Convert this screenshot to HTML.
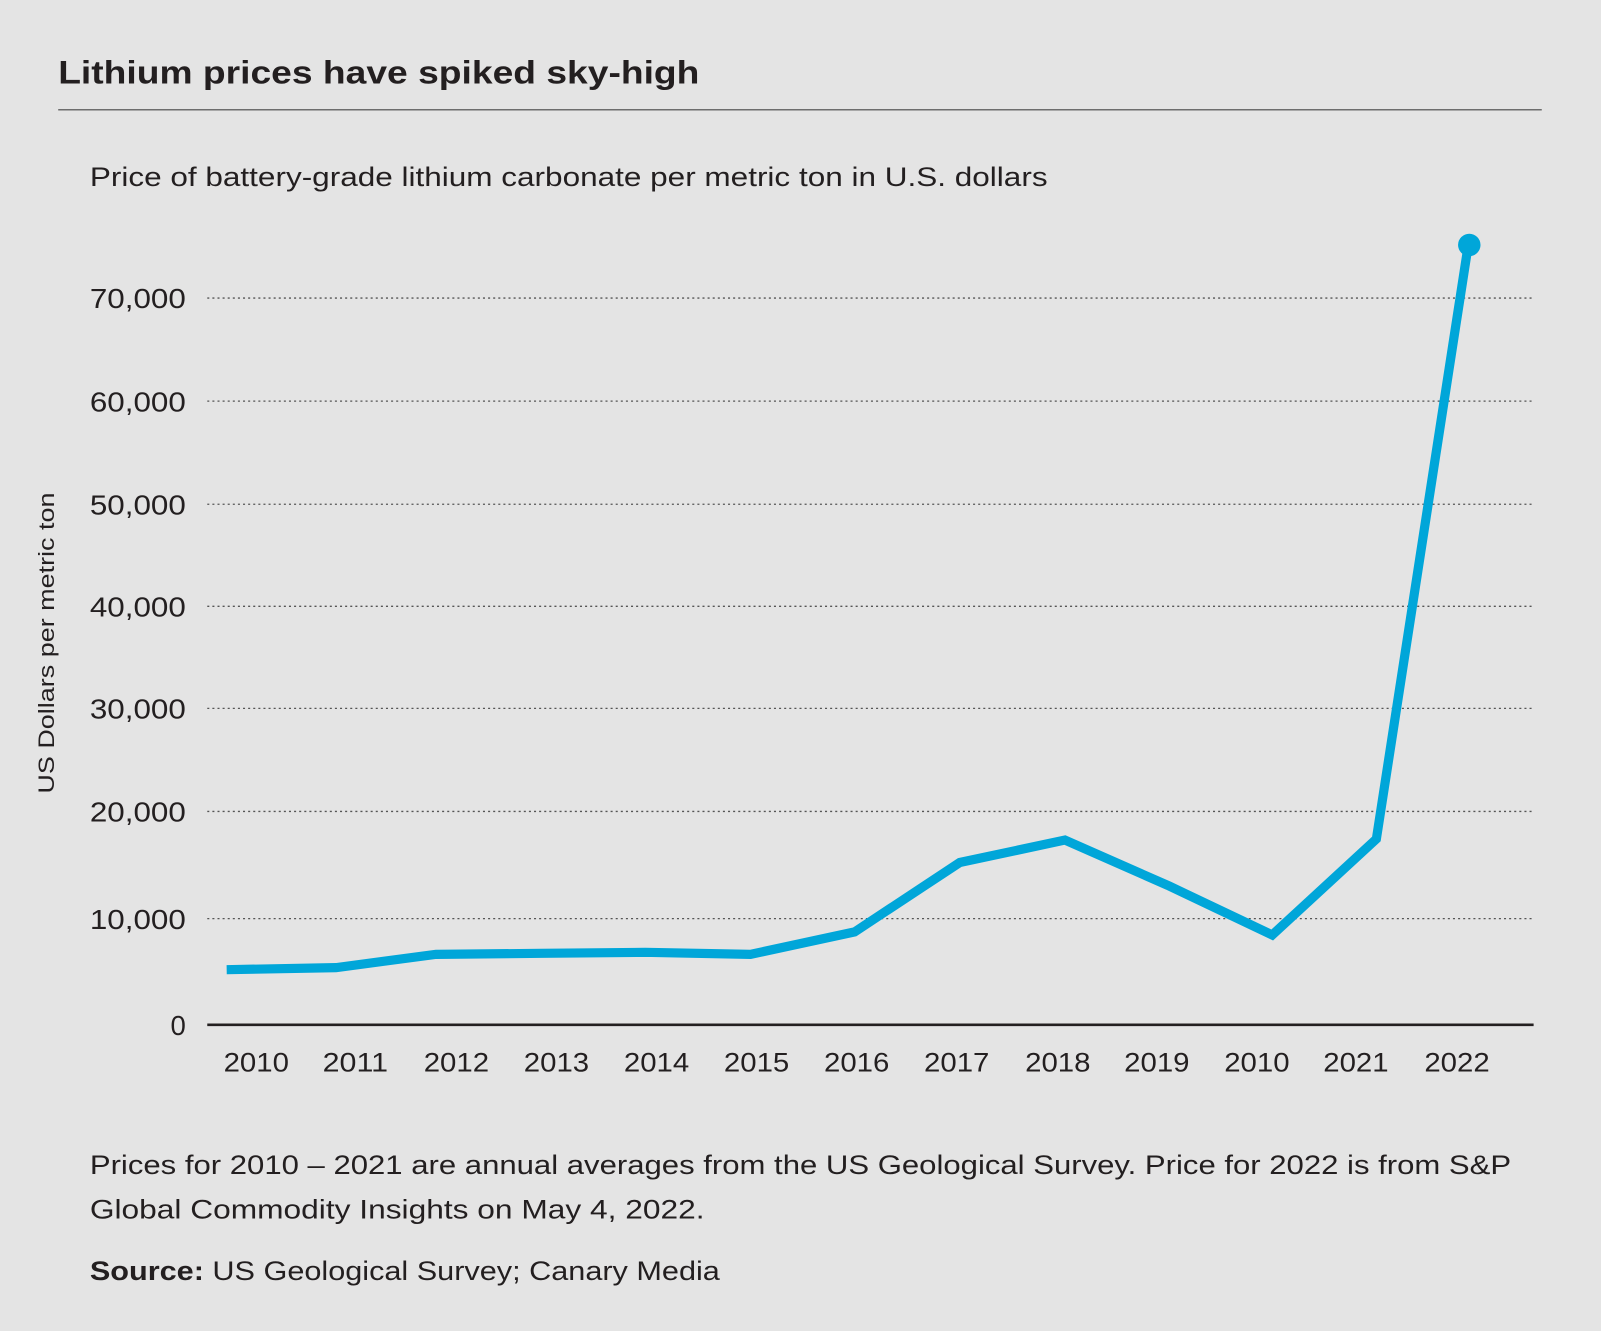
<!DOCTYPE html>
<html><head><meta charset="utf-8"><style>
html,body{margin:0;padding:0;background:#e4e4e4;}
svg{display:block;}
text{font-family:"Liberation Sans",sans-serif;fill:#231f20;}
</style></head><body>
<svg width="1601" height="1331" viewBox="0 0 1568 1304" preserveAspectRatio="none" xmlns="http://www.w3.org/2000/svg">
<rect width="1568" height="1304" fill="#e4e4e4"/>
<text x="57" y="82" font-size="32" font-weight="bold" textLength="628" lengthAdjust="spacingAndGlyphs">Lithium prices have spiked sky-high</text>
<line x1="57" y1="107.5" x2="1510" y2="107.5" stroke="#6d6d6d" stroke-width="1.5"/>
<text x="88" y="182" font-size="26" textLength="938" lengthAdjust="spacingAndGlyphs">Price of battery-grade lithium carbonate per metric ton in U.S. dollars</text>
<g stroke="#555" stroke-width="1.3" stroke-dasharray="2,3">
<line x1="203" y1="292" x2="1502" y2="292"/>
<line x1="203" y1="393" x2="1502" y2="393"/>
<line x1="203" y1="494" x2="1502" y2="494"/>
<line x1="203" y1="594" x2="1502" y2="594"/>
<line x1="203" y1="694" x2="1502" y2="694"/>
<line x1="203" y1="795" x2="1502" y2="795"/>
<line x1="203" y1="900" x2="1502" y2="900"/>
</g>
<line x1="203" y1="1004" x2="1502" y2="1004" stroke="#231f20" stroke-width="2.5"/>
<g font-size="27">
<text x="88" y="302" textLength="94" lengthAdjust="spacingAndGlyphs">70,000</text>
<text x="88" y="403" textLength="94" lengthAdjust="spacingAndGlyphs">60,000</text>
<text x="88" y="504" textLength="94" lengthAdjust="spacingAndGlyphs">50,000</text>
<text x="88" y="604" textLength="94" lengthAdjust="spacingAndGlyphs">40,000</text>
<text x="88" y="704" textLength="94" lengthAdjust="spacingAndGlyphs">30,000</text>
<text x="88" y="805" textLength="94" lengthAdjust="spacingAndGlyphs">20,000</text>
<text x="88" y="910" textLength="94" lengthAdjust="spacingAndGlyphs">10,000</text>
<text x="182" y="1014" text-anchor="end">0</text>
</g>
<text transform="translate(53,630) rotate(-90)" font-size="22" text-anchor="middle" textLength="295" lengthAdjust="spacingAndGlyphs">US Dollars per metric ton</text>
<g font-size="26" text-anchor="middle">
<text x="251" y="1050" textLength="64" lengthAdjust="spacingAndGlyphs">2010</text><text x="348" y="1050" textLength="64" lengthAdjust="spacingAndGlyphs">2011</text><text x="447" y="1050" textLength="64" lengthAdjust="spacingAndGlyphs">2012</text>
<text x="545" y="1050" textLength="64" lengthAdjust="spacingAndGlyphs">2013</text><text x="643" y="1050" textLength="64" lengthAdjust="spacingAndGlyphs">2014</text><text x="741" y="1050" textLength="64" lengthAdjust="spacingAndGlyphs">2015</text>
<text x="839" y="1050" textLength="64" lengthAdjust="spacingAndGlyphs">2016</text><text x="937" y="1050" textLength="64" lengthAdjust="spacingAndGlyphs">2017</text><text x="1036" y="1050" textLength="64" lengthAdjust="spacingAndGlyphs">2018</text>
<text x="1133" y="1050" textLength="64" lengthAdjust="spacingAndGlyphs">2019</text><text x="1231" y="1050" textLength="64" lengthAdjust="spacingAndGlyphs">2010</text><text x="1328" y="1050" textLength="64" lengthAdjust="spacingAndGlyphs">2021</text>
<text x="1427" y="1050" textLength="64" lengthAdjust="spacingAndGlyphs">2022</text>
</g>
<polyline fill="none" stroke="#00a6d9" stroke-width="9" stroke-linejoin="miter" points="222,950 329,948 427,935 530,934 632,933 735,935 837,913 940,845 1043,823 1145,868 1246,916 1348,822 1438,240"/>
<circle cx="1439" cy="240" r="11" fill="#00a6d9"/>
<text x="88" y="1150" font-size="26" textLength="1392" lengthAdjust="spacingAndGlyphs">Prices for 2010 – 2021 are annual averages from the US Geological Survey. Price for 2022 is from S&amp;P</text>
<text x="88" y="1194" font-size="26" textLength="602" lengthAdjust="spacingAndGlyphs">Global Commodity Insights on May 4, 2022.</text>
<text x="88" y="1254" font-size="26" textLength="617" lengthAdjust="spacingAndGlyphs"><tspan font-weight="bold">Source:</tspan> US Geological Survey; Canary Media</text>
</svg>
</body></html>
